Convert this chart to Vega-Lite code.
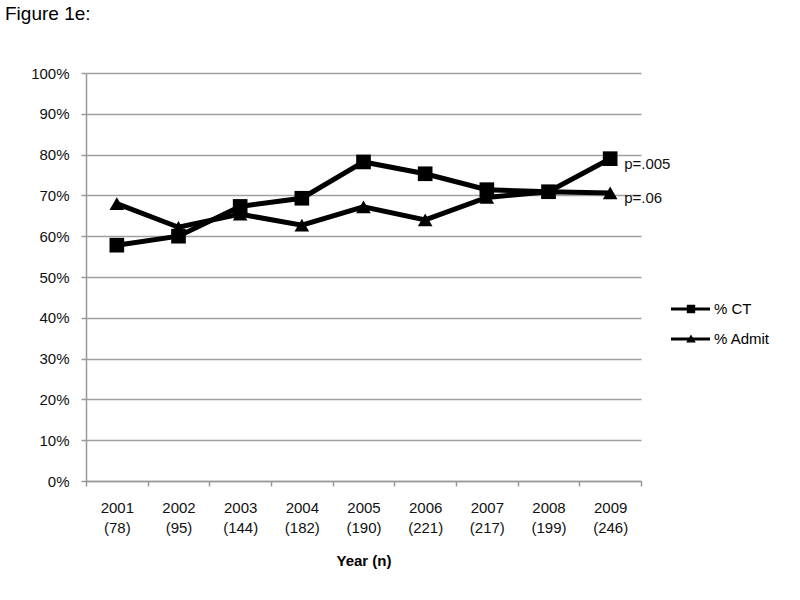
{
  "$schema": "https://vega.github.io/schema/vega-lite/v6.json",
  "width": 555,
  "height": 408,
  "autosize": {"type": "none"},
  "padding": {"left": 86, "top": 73, "right": 159, "bottom": 119},
  "background": "#ffffff",
  "title": {"text": "Figure 1e:", "anchor": "start", "frame": "group", "dx": -81, "offset": 0, "dy": -42, "font": "Liberation Sans", "fontSize": 19, "fontWeight": "normal", "color": "#000000"},
  "config": {
    "view": {"stroke": null},
    "font": "Liberation Sans",
    "axis": {"labelFont": "Liberation Sans", "labelFontSize": 15, "labelColor": "#111111", "domainColor": "#999999", "domainWidth": 1.5, "tickColor": "#999999", "tickWidth": 1.5, "tickSize": 5, "titleFont": "Liberation Sans", "titleFontSize": 15, "titleColor": "#000000"}
  },
  "data": {"values": [
    {"label": "2001|(78)", "series": "% CT", "value": 57.8},
    {"label": "2002|(95)", "series": "% CT", "value": 60.0},
    {"label": "2003|(144)", "series": "% CT", "value": 67.3},
    {"label": "2004|(182)", "series": "% CT", "value": 69.3},
    {"label": "2005|(190)", "series": "% CT", "value": 78.2},
    {"label": "2006|(221)", "series": "% CT", "value": 75.3},
    {"label": "2007|(217)", "series": "% CT", "value": 71.4},
    {"label": "2008|(199)", "series": "% CT", "value": 70.9},
    {"label": "2009|(246)", "series": "% CT", "value": 79.0, "p": "p=.005"},
    {"label": "2001|(78)", "series": "% Admit", "value": 68.0},
    {"label": "2002|(95)", "series": "% Admit", "value": 62.2},
    {"label": "2003|(144)", "series": "% Admit", "value": 65.4},
    {"label": "2004|(182)", "series": "% Admit", "value": 62.7},
    {"label": "2005|(190)", "series": "% Admit", "value": 67.2},
    {"label": "2006|(221)", "series": "% Admit", "value": 64.0},
    {"label": "2007|(217)", "series": "% Admit", "value": 69.5},
    {"label": "2008|(199)", "series": "% Admit", "value": 70.9},
    {"label": "2009|(246)", "series": "% Admit", "value": 70.6, "p": "p=.06"}
  ]},
  "encoding": {
    "x": {
      "field": "label", "type": "nominal", "sort": null, "bandPosition": 0.5,
      "scale": {"type": "band", "paddingInner": 0, "paddingOuter": 0},
      "axis": {"title": "Year (n)", "titleFontWeight": "bold", "titlePadding": 18, "labelAngle": 0, "labelExpr": "datum.value ? split(datum.value, '|') : ''", "labelLineHeight": 20, "labelPadding": 14, "tickBand": "extent", "grid": false, "labelBaseline": "top"}
    },
    "y": {
      "field": "value", "type": "quantitative",
      "scale": {"domain": [0, 100], "nice": false},
      "axis": {"title": null, "values": [0, 10, 20, 30, 40, 50, 60, 70, 80, 90, 100], "labelExpr": "datum.value + '%'", "labelPadding": 12, "grid": true, "gridColor": "#a0a0a0", "gridWidth": 1.5}
    }
  },
  "layer": [
    {
      "mark": {"type": "line", "color": "#000000", "strokeWidth": 5},
      "encoding": {"detail": {"field": "series"}}
    },
    {
      "mark": {"type": "point", "filled": true, "color": "#000000", "opacity": 1, "size": 215},
      "encoding": {
        "shape": {
          "field": "series", "type": "nominal",
          "scale": {"domain": ["% CT", "% Admit"], "range": ["square", "triangle-up"]},
          "legend": null
        }
      }
    },
    {
      "transform": [{"filter": "false"}],
      "mark": {"type": "point", "filled": true, "color": "#000000", "opacity": 1, "size": 400},
      "encoding": {
        "shape": {
          "field": "series", "type": "nominal",
          "scale": {"domain": ["% CT", "% Admit"], "range": ["M-2,-0.15H1.9V0.15H-2Z M-0.42,-0.42H0.42V0.42H-0.42Z", "M-2,-0.15H1.9V0.15H-2Z M0,-0.46L0.48,0.36H-0.48Z"]},
          "legend": {
            "orient": "none", "legendX": 595, "legendY": 226, "title": null,
            "symbolSize": 400, "labelOffset": 13, "rowPadding": 12,
            "labelFont": "Liberation Sans", "labelFontSize": 15, "labelColor": "#000000",
            "symbolStrokeWidth": 0, "symbolFillColor": "#000000", "symbolOpacity": 1
          }
        }
      }
    },
    {
      "transform": [{"filter": "datum.p"}],
      "mark": {"type": "text", "align": "left", "baseline": "middle", "dx": 14, "dy": 5, "font": "Liberation Sans", "fontSize": 15, "color": "#111111"},
      "encoding": {"text": {"field": "p"}}
    }
  ],
  "resolve": {"scale": {"shape": "independent"}, "legend": {"shape": "independent"}}
}
